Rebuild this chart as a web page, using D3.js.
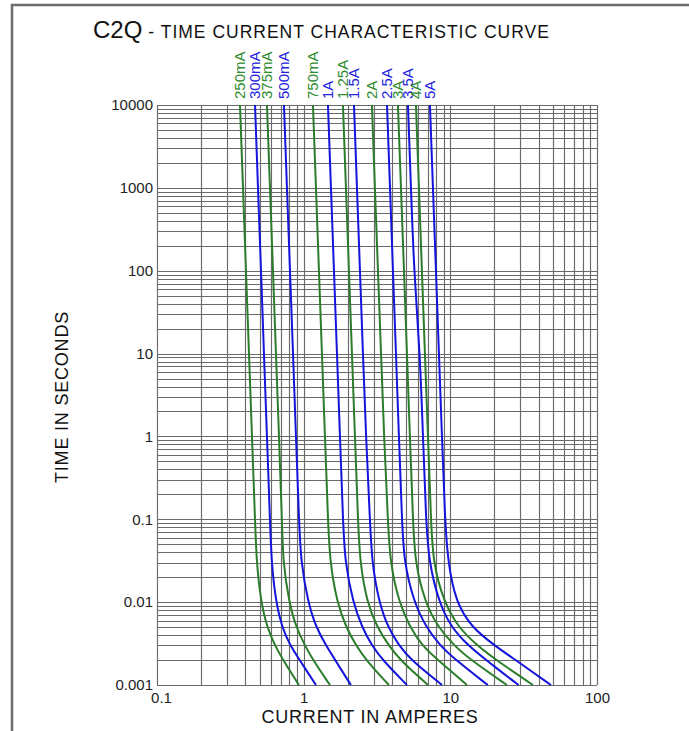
<!DOCTYPE html>
<html>
<head>
<meta charset="utf-8">
<script src="https://cdn.jsdelivr.net/npm/d3@7"></script>
<style>
  body { margin: 0; background: #fff; }
  text { font-family: "Liberation Sans", Arial, Helvetica, sans-serif; }
</style>
</head>
<body>
<svg id="chart"></svg>
<script>
const times = [10000, 1000, 100, 10, 1, 0.1, 0.03, 0.01, 0.005, 0.003, 0.002, 0.001];

// Current (amperes) for each fuse rating at the times above
const amps250mA = [0.368, 0.386, 0.404, 0.424, 0.444, 0.466, 0.477, 0.512, 0.562, 0.637, 0.723, 0.929];
const amps300mA = [0.466, 0.488, 0.512, 0.536, 0.562, 0.589, 0.603, 0.647, 0.711, 0.807, 0.94, 1.213];
const amps375mA = [0.562, 0.589, 0.618, 0.647, 0.679, 0.711, 0.723, 0.795, 0.886, 1.021, 1.157, 1.511];
const amps500mA = [0.734, 0.769, 0.807, 0.846, 0.886, 0.929, 0.958, 1.070, 1.213, 1.419, 1.64, 2.10];
const amps750mA = [1.157, 1.213, 1.271, 1.332, 1.397, 1.464, 1.511, 1.687, 1.942, 2.273, 2.66, 3.81];
const amps1A    = [1.464, 1.535, 1.609, 1.687, 1.768, 1.853, 1.912, 2.168, 2.497, 2.91, 3.45, 5.06];
const amps1_25A = [1.853, 1.942, 2.036, 2.134, 2.237, 2.345, 2.420, 2.70, 3.16, 3.81, 4.53, 7.04];
const amps1_5A  = [2.203, 2.309, 2.420, 2.536, 2.66, 2.83, 2.92, 3.26, 3.75, 4.46, 5.39, 8.77];
const amps2A    = [2.92, 3.06, 3.21, 3.37, 3.53, 3.75, 3.88, 4.46, 5.30, 6.40, 8.23, 12.98];
const amps2_5A  = [3.70, 3.88, 4.06, 4.26, 4.46, 4.68, 4.83, 5.65, 6.82, 8.49, 10.9, 18.0];
const amps3A    = [4.39, 4.61, 4.83, 5.06, 5.30, 5.56, 5.74, 6.71, 8.23, 10.6, 13.8, 24.3];
const amps3_5A  = [5.14, 5.39, 5.65, 6.21, 6.51, 6.82, 7.15, 8.36, 10.1, 13.2, 17.5, 29.2];
const amps4A    = [5.83, 6.11, 6.40, 6.71, 7.04, 7.38, 7.61, 9.04, 11.3, 15.2, 20.5, 36.6];
const amps5A    = [7.26, 7.61, 7.98, 8.36, 8.77, 9.19, 9.63, 10.9, 13.9, 20.0, 27.9, 48.5];

const ratings = ["250mA", "300mA", "375mA", "500mA", "750mA", "1A", "1.25A", "1.5A",
                 "2A", "2.5A", "3A", "3.5A", "4A", "5A"];
const seriesValues = [amps250mA, amps300mA, amps375mA, amps500mA, amps750mA, amps1A, amps1_25A,
                      amps1_5A, amps2A, amps2_5A, amps3A, amps3_5A, amps4A, amps5A];

// Axis tick labels
const xTicks = [0.1, 1, 10, 100];
const xTickLabels = ["0.1", "1", "10", "100"];
const yTicks = [10000, 1000, 100, 10, 1, 0.1, 0.01, 0.001];
const yTickLabels = ["10000", "1000", "100", "10", "1", "0.1", "0.01", "0.001"];

const width = 689, height = 731;
const margin = {top: 105, right: 92, bottom: 46, left: 157};

const svg = d3.select('#chart')
    .attr('width', width)
    .attr('height', height);

// outer frame (top and left edge of the sheet)
svg.append('path')
    .attr('d', 'M12,' + height + 'V5H' + width)
    .attr('fill', 'none')
    .attr('stroke', '#6e6e6e')
    .attr('stroke-width', 2.5);

const x = d3.scaleLog()
    .domain([0.1, 100])
    .range([margin.left, width - margin.right]);

const y = d3.scaleLog()
    .domain([0.001, 10000])
    .range([height - margin.bottom, margin.top]);

// log grid: 1..9 in every decade
function logGrid(lo, hi) {
    let vals = [];
    for (let e = lo; e < hi; e++) {
        for (let m = 1; m < 10; m++) vals.push(m * Math.pow(10, e));
    }
    vals.push(Math.pow(10, hi));
    return vals;
}

const grid = svg.append('g').attr('stroke', '#6a6a6a').attr('stroke-width', 1.15);

grid.selectAll('line.v')
    .data(logGrid(-1, 2))
    .enter()
    .append('line')
    .attr('x1', d => Math.round(x(d)) + 0.5)
    .attr('x2', d => Math.round(x(d)) + 0.5)
    .attr('y1', y(10000))
    .attr('y2', y(0.001));

grid.selectAll('line.h')
    .data(logGrid(-3, 4))
    .enter()
    .append('line')
    .attr('x1', x(0.1))
    .attr('x2', x(100))
    .attr('y1', d => Math.round(y(d)) + 0.5)
    .attr('y2', d => Math.round(y(d)) + 0.5);

// axes (labels only)
const xAxis = svg.append('g')
    .attr('transform', 'translate(0,' + (height - margin.bottom) + ')')
    .call(d3.axisBottom(x).tickValues(xTicks).tickSize(0).tickPadding(7)
        .tickFormat((d, i) => xTickLabels[i]));
xAxis.select('.domain').remove();
xAxis.selectAll('text').attr('font-size', 15).attr('fill', '#222')
    .attr('dx', (d, i) => i === 0 ? 4 : 0)
    .style('font-family', '"Liberation Sans", Arial, sans-serif');

const yAxis = svg.append('g')
    .attr('transform', 'translate(' + margin.left + ',0)')
    .call(d3.axisLeft(y).tickValues(yTicks).tickSize(0).tickPadding(4)
        .tickFormat((d, i) => yTickLabels[i]));
yAxis.select('.domain').remove();
yAxis.selectAll('text').attr('font-size', 15).attr('fill', '#222')
    .style('font-family', '"Liberation Sans", Arial, sans-serif');

// curves
const line = d3.line()
    .x(d => x(d.amps))
    .y(d => y(d.time))
    .curve(d3.curveBasis);

const series = ratings.map((name, i) => ({
    name: name,
    color: i % 2 === 0 ? '#2b7d2b' : '#1414dc',
    points: seriesValues[i].map((a, j) => ({amps: a, time: times[j]}))
}));

svg.append('g')
    .selectAll('path')
    .data(series)
    .enter()
    .append('path')
    .attr('d', d => line(d.points))
    .attr('fill', 'none')
    .attr('stroke', d => d.color)
    .attr('stroke-width', 2);

// rating labels above each curve
svg.append('g')
    .selectAll('text')
    .data(series)
    .enter()
    .append('text')
    .attr('transform', d => 'translate(' + x(d.points[0].amps) + ',' + (y(10000) - 6) + ') rotate(-90)')
    .attr('dy', '0.36em')
    .attr('font-size', 15)
    .attr('fill', d => d.color === '#2b7d2b' ? '#2e8b2e' : '#2323e0')
    .text(d => d.name);

// title
const title = svg.append('text')
    .attr('x', 93)
    .attr('y', 38)
    .attr('fill', '#111');
title.append('tspan').attr('font-size', 24).text('C2Q');
title.append('tspan').attr('font-size', 17.5).attr('dx', 6)
    .attr('letter-spacing', 1)
    .text('- TIME CURRENT CHARACTERISTIC CURVE');

// axis titles
svg.append('text')
    .attr('x', 370)
    .attr('y', 723)
    .attr('text-anchor', 'middle')
    .attr('font-size', 18)
    .attr('letter-spacing', 0.8)
    .attr('fill', '#111')
    .text('CURRENT IN AMPERES');

svg.append('text')
    .attr('transform', 'translate(68,397) rotate(-90)')
    .attr('text-anchor', 'middle')
    .attr('font-size', 18)
    .attr('letter-spacing', 0.8)
    .attr('fill', '#111')
    .text('TIME IN SECONDS');
</script>
</body>
</html>
